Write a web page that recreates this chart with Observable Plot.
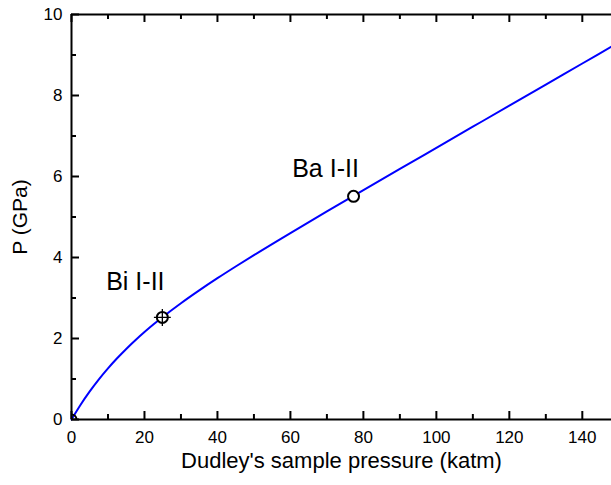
<!DOCTYPE html>
<html><head><meta charset="utf-8">
<script src="https://cdn.jsdelivr.net/npm/d3@7"></script>
<script src="https://cdn.jsdelivr.net/npm/@observablehq/plot@0.6"></script>
<style>body{margin:0;background:#fff;font-family:"Liberation Sans",Arial,sans-serif} #chart{position:absolute;left:0;top:0}</style>
</head><body><div id="chart"></div>
<script>
// Curve: Dudley's sample pressure (katm) vs P (GPa)
const dudley   = [0, 2.5, 5, 7.5, 10, 12.5, 15, 17.5, 20, 22.5, 25, 30, 35, 40, 45, 50, 60, 70, 77.3, 90, 100, 110, 120, 130, 140, 148];
const pressure = [0, 0.365, 0.693, 0.991, 1.262, 1.511, 1.742, 1.957, 2.159, 2.350, 2.531, 2.871, 3.188, 3.489, 3.778, 4.059, 4.604, 5.137, 5.521, 6.187, 6.708, 7.229, 7.75, 8.27, 8.79, 9.206];

// Calibration points
const transLabels = ["Bi I-II", "Ba I-II"];
const transX = [24.9, 77.3];
const transY = [2.52, 5.51];

const xTicks = [0, 20, 40, 60, 80, 100, 120, 140];
const xMinor = [10, 30, 50, 70, 90, 110, 130];
const yTicks = [0, 2, 4, 6, 8, 10];
const yMinor = [1, 3, 5, 7, 9];

const curve = dudley.map((d, i) => ({x: d, y: pressure[i]}));
const pts = transLabels.map((l, i) => ({label: l, x: transX[i], y: transY[i]}));
const bi = [pts[0]];
const ba = [pts[1]];

const W = 611, H = 485, ML = 71, MR = 0, MT = 14, MB = 66;
const fw = W - ML - MR, fh = H - MT - MB;
const black = "#000";

const chart = Plot.plot({
  width: W,
  height: H,
  marginLeft: ML,
  marginRight: MR,
  marginTop: MT,
  marginBottom: MB,
  style: {fontFamily: "'Liberation Sans', Arial, sans-serif", fontSize: "17px", color: "#000", background: "#fff"},
  x: {domain: [0, 148]},
  y: {domain: [0, 10]},
  marks: [
    Plot.line(curve, {x: "x", y: "y", stroke: "#0000ff", strokeWidth: 2, curve: "monotone-x"}),
    Plot.dot([{x: 0, y: 0}], {x: "x", y: "y", r: 5, stroke: black, strokeWidth: 2, fill: "none", clip: true}),
    Plot.dot(pts, {x: "x", y: "y", r: 5.5, stroke: black, strokeWidth: 2, fill: "#fff"}),
    Plot.dot(bi, {x: "x", y: "y", r: 5.5, symbol: "plus", stroke: black, strokeWidth: 1.3}),
    Plot.text(bi, {x: "x", y: "y", text: "label", dx: -27, dy: -35, fontSize: 25, fill: black}),
    Plot.text(ba, {x: "x", y: "y", text: "label", dx: -28, dy: -27, fontSize: 25, fill: black}),
    // frame lines
    Plot.ruleX([0], {stroke: black, strokeWidth: 2}),
    Plot.ruleY([0], {stroke: black, strokeWidth: 2}),
    Plot.ruleY([10], {stroke: black, strokeWidth: 2}),
    // inward ticks, bottom and top
    Plot.tickX(xTicks, {x: d => d, stroke: black, strokeWidth: 2, insetTop: fh - 8}),
    Plot.tickX(xMinor, {x: d => d, stroke: black, strokeWidth: 2, insetTop: fh - 5}),
    Plot.tickX(xTicks, {x: d => d, stroke: black, strokeWidth: 2, insetBottom: fh - 8}),
    Plot.tickX(xMinor, {x: d => d, stroke: black, strokeWidth: 2, insetBottom: fh - 5}),
    // inward ticks, left
    Plot.tickY(yTicks, {y: d => d, stroke: black, strokeWidth: 2, insetRight: fw - 8}),
    Plot.tickY(yMinor, {y: d => d, stroke: black, strokeWidth: 2, insetRight: fw - 5}),
    // tick labels
    Plot.axisX({anchor: "bottom", ticks: xTicks, tickSize: 0, tickPadding: 11, tickFormat: d => d, fontSize: 17, fill: black, label: null}),
    Plot.axisY({anchor: "left", ticks: yTicks, tickSize: 0, tickPadding: 9, tickFormat: d => d, fontSize: 17, fill: black, label: null}),
    // axis titles
    Plot.text(["Dudley's sample pressure (katm)"], {frameAnchor: "bottom", dy: 48, fontSize: 22, fill: black}),
    Plot.text(["P (GPa)"], {frameAnchor: "left", dx: -51, rotate: -90, textAnchor: "middle", fontSize: 21, fill: black})
  ]
});
document.getElementById("chart").append(chart);
</script>
</body></html>
